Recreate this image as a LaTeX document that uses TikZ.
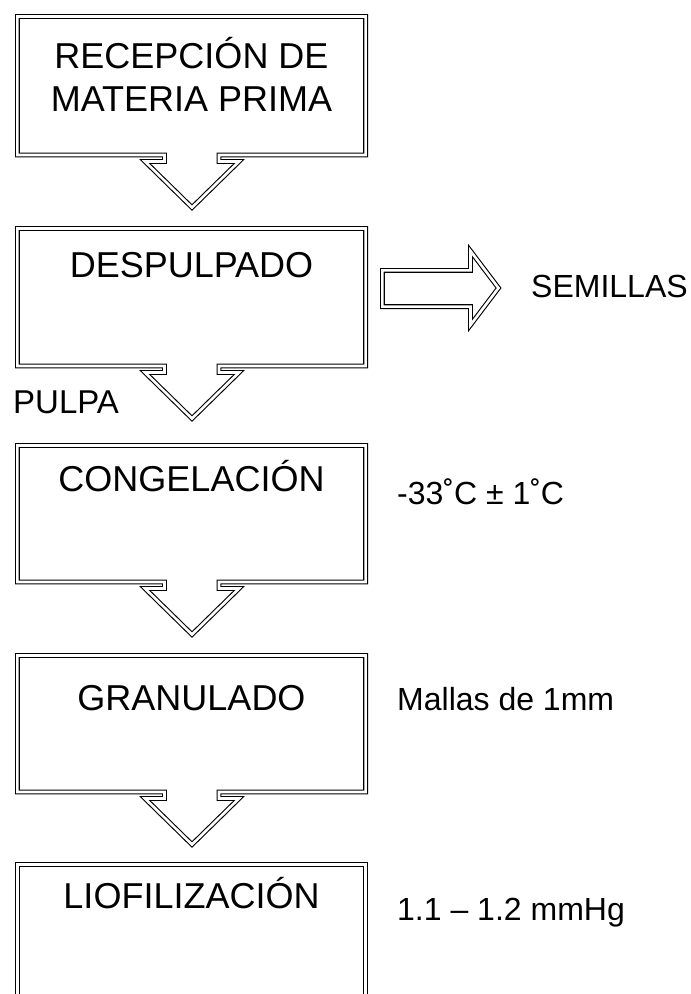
\documentclass[tikz,border=0pt]{standalone}
\usepackage{fontspec}
\setmainfont{Liberation Sans}
\begin{document}
\begin{tikzpicture}[x=1pt, y=-1pt, every node/.style={inner sep=0pt}]
    \tikzset{
        box/.style={draw, double, double distance=2.6pt, line width=1.1pt, line join=miter},
        paso/.style={font=\fontsize{36}{43}\selectfont, anchor=base, align=center},
        nota/.style={font=\fontsize{32}{38}\selectfont, anchor=base west}
    }
    \clip (0,0) rectangle (691,994);
    % cajas con flecha hacia abajo
    \foreach \t/\b in {16.5/155, 228.5/366, 445.5/582, 655.5/792}
        \draw[box] (17.4,\t) -- (365.6,\t) -- (365.6,\b) -- (219,\b) -- (219,\b+6.5) -- (239,\b+6.5)
            -- (192,\b+52.5) -- (145,\b+6.5) -- (164.5,\b+6.5) -- (164.5,\b) -- (17.4,\b) -- cycle;
    \draw[box] (17.4,1000) -- (17.4,864.5) -- (365.6,864.5) -- (365.6,1000);
    % flecha lateral
    \draw[box] (382.4,270.4) -- (470.5,270.4) -- (470.5,251) -- (498.5,288) -- (470.5,325)
        -- (470.5,306.6) -- (382.4,306.6) -- cycle;
    % textos
    \node[paso] (recep) at (191.5,111) {RECEPCIÓN DE\\MATERIA PRIMA};
    \node[paso] (despulp) at (191.5,277) {DESPULPADO};
    \node[paso] (congel) at (191.5,491) {CONGELACIÓN};
    \node[paso] (granul) at (191.5,710) {GRANULADO};
    \node[paso] (liofil) at (191.5,908) {LIOFILIZACIÓN};
    \node[nota] (semillas) at (531,297) {SEMILLAS};
    \node[nota, font=\fontsize{33}{40}\selectfont] (pulpa) at (13,413) {PULPA};
    \node[nota] (temp) at (397,504) {-33˚C ± 1˚C};
    \node[nota] (mallas) at (397,710) {Mallas de 1mm};
    \node[nota] (vacio) at (397,920) {1.1 – 1.2 mmHg};
\end{tikzpicture}
\end{document}
